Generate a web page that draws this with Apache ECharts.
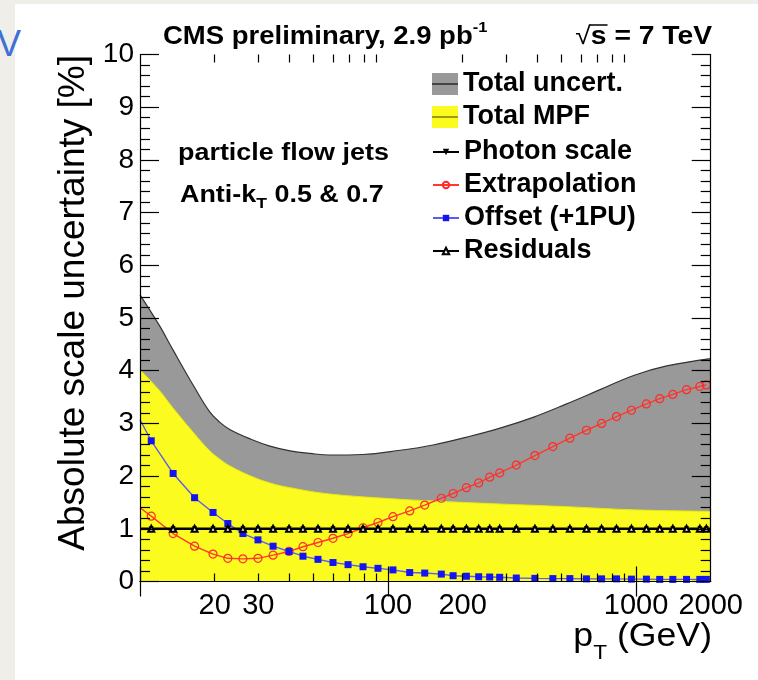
<!DOCTYPE html>
<html><head><meta charset="utf-8">
<script src="https://cdn.jsdelivr.net/npm/echarts@6/dist/echarts.min.js"></script>
<style>
html,body{margin:0;padding:0;background:#efeee8;width:758px;height:680px;overflow:hidden;}
#paper{position:absolute;left:15px;top:4px;right:0;bottom:0;background:#fff;}
#vmark{position:absolute;left:-3px;top:23px;font:36px "Liberation Sans",Arial,sans-serif;color:#3d70d8;}
#chart{position:absolute;left:0;top:0;width:758px;height:680px;}
</style></head><body>
<div id="paper"></div>
<div id="vmark">V</div>
<div id="chart"></div>
<script>
// ---- data ----
const ptBins = [11.1, 13.6, 16.6, 19.7, 22.6, 26.0, 29.9, 34.4, 39.9, 45.4, 52.2, 60.0, 69.0, 79.3, 91.1,
  104.7, 122.3, 140.6, 164, 183, 207, 232, 257, 282, 329, 391, 462, 541, 631, 726, 834, 958, 1101, 1246,
  1407, 1598, 1808, 1921];
const offsetVals = [2.67, 2.05, 1.59, 1.31, 1.10, 0.91, 0.79, 0.67, 0.57, 0.48, 0.42, 0.36, 0.32, 0.28, 0.25,
  0.22, 0.17, 0.16, 0.14, 0.11, 0.10, 0.09, 0.085, 0.08, 0.066, 0.06, 0.055, 0.055, 0.05, 0.05, 0.05, 0.045,
  0.045, 0.04, 0.04, 0.04, 0.04, 0.04];
const extrapVals = [1.24, 0.91, 0.67, 0.52, 0.44, 0.43, 0.44, 0.50, 0.57, 0.66, 0.74, 0.82, 0.91, 1.02, 1.12,
  1.23, 1.34, 1.45, 1.58, 1.67, 1.78, 1.87, 1.98, 2.06, 2.21, 2.39, 2.56, 2.72, 2.87, 3.00, 3.13, 3.25, 3.37,
  3.47, 3.55, 3.64, 3.70, 3.73];
const photonVals = [1,1,1,1,1,1,1,1,1,1,1,1,1,1,1,1,1,1,1,1,1,1,1,1,1,1,1,1,1,1,1,1,1,1,1,1,1,1];
const residualVals = [1,1,1,1,1,1,1,1,1,1,1,1,1,1,1,1,1,1,1,1,1,1,1,1,1,1,1,1,1,1,1,1,1,1,1,1,1,1];
const edgeStart = 10, edgeEnd = 2000;
const offsetAtStart = 3.07, extrapAtStart = 1.40;

const totalPt = [10, 12, 13.6, 16.6, 19.1, 21, 23.1, 28, 33.4, 40.3, 48.5, 58.3, 79, 112, 152, 208, 283, 387, 525, 716, 978, 1330, 2000];
const totalVals = [5.44, 4.85, 4.39, 3.68, 3.22, 3.02, 2.88, 2.70, 2.57, 2.48, 2.43, 2.40, 2.41, 2.49, 2.59, 2.74, 2.91, 3.12, 3.37, 3.64, 3.91, 4.09, 4.23];
const mpfPt = [10, 12, 13.6, 16.6, 19.1, 21, 23.1, 28, 33.4, 40.3, 58.3, 112, 147, 283, 525, 978, 2000];
const mpfVals = [4.02, 3.62, 3.29, 2.80, 2.48, 2.32, 2.19, 2.00, 1.87, 1.78, 1.66, 1.56, 1.53, 1.47, 1.42, 1.36, 1.33];

const xMajorTicks = [10, 100, 1000];
const xMinorTicks = [20, 30, 40, 50, 60, 70, 80, 90, 200, 300, 400, 500, 600, 700, 800, 900];
const xTickLabels = [20, 30, 100, 200, 1000, 2000];
const yMin = 0, yMax = 10, yStep = 1;

const names = ['Total uncert.', 'Total MPF', 'Photon scale', 'Extrapolation', 'Offset (+1PU)', 'Residuals'];

// ---- helpers ----
const FONT = '"Liberation Sans", Arial, sans-serif';
const mctx = document.createElement('canvas').getContext('2d');
function tw(t, s, w) { mctx.font = (w || 'normal') + ' ' + s + 'px "Liberation Sans"'; return mctx.measureText(t).width; }
function runs(x, y, parts, sx, align) {
  const total = parts.reduce((a, p) => a + tw(p.t, p.s, p.w) * sx, 0);
  let cx = align === 'right' ? x - total : x;
  const out = [];
  parts.forEach(p => {
    out.push({ type: 'text', x: cx, y: y + (p.dy || 0), scaleX: sx, z: 100,
      style: { text: p.t, fontSize: p.s, fontWeight: p.w || 'normal', fontFamily: FONT, fill: '#000',
        textAlign: 'left', textVerticalAlign: 'middle' } });
    p.x0 = cx; cx += tw(p.t, p.s, p.w) * sx; p.x1 = cx;
  });
  return out;
}
const pair = (xs, ys) => xs.map((x, i) => [x, ys[i]]);

const G = { left: 140, top: 54.5, right: 47.3, bottom: 98.5 };
const black = '#000';

function xAxisDef(grid, pos, ticks, len, labels, line) {
  return {
    type: 'log', logBase: 10, min: edgeStart, max: edgeEnd, gridIndex: grid, position: pos, z: 20,
    axisLine: { show: line, lineStyle: { color: black, width: 1.2 } },
    axisTick: { show: true, inside: true, length: len, customValues: ticks, lineStyle: { color: black, width: 1.2 } },
    axisLabel: labels ? { show: true, customValues: xTickLabels, formatter: v => String(Math.round(v)),
      fontSize: 29, fontFamily: FONT, color: black, margin: 10, hideOverlap: false } : { show: false },
    splitLine: { show: false }, minorTick: { show: false }, minorSplitLine: { show: false }
  };
}
function yAxisDef(grid, pos, labels, show) {
  return {
    type: 'value', min: yMin, max: yMax, interval: yStep, gridIndex: grid, position: pos, show: show, z: 20,
    axisLine: { show: true, lineStyle: { color: black, width: 1.2 } },
    axisTick: { show: true, inside: true, length: 19, lineStyle: { color: black, width: 1.2 } },
    minorTick: { show: true, splitNumber: 5, length: 10, lineStyle: { color: black, width: 1.2 } },
    axisLabel: labels ? { show: true, fontSize: 28, fontFamily: FONT, color: black, margin: 6 } : { show: false },
    splitLine: { show: false }
  };
}

const graphics = [];
// title
const t1 = [{ t: 'CMS preliminary, 2.9 pb', s: 25, w: 'bold' }, { t: '-1', s: 15, w: 'bold', dy: -9 }];
graphics.push(...runs(163, 37, t1, 1.1));
const t2 = [{ t: '\u221A', s: 25, w: 'normal' }, { t: 's = 7 TeV', s: 25, w: 'bold' }];
graphics.push(...runs(712, 37, t2, 1.13, 'right'));
graphics.push({ type: 'line', z: 100, shape: { x1: t2[0].x1 - 1, y1: 25, x2: t2[1].x0 + tw('s', 25, 'bold') * 1.13 + 1, y2: 25 },
  style: { stroke: '#000', lineWidth: 1.5 } });
// inner labels
graphics.push(...runs(178, 154, [{ t: 'particle flow jets', s: 23, w: 'bold' }], 1.17));
graphics.push(...runs(180, 196, [{ t: 'Anti-k', s: 23, w: 'bold' }, { t: 'T', s: 15, w: 'bold', dy: 8 },
  { t: ' 0.5 & 0.7', s: 23, w: 'bold' }], 1.17));
// x axis title
graphics.push(...runs(712, 637, [{ t: 'p', s: 33 }, { t: 'T', s: 21, dy: 16 }, { t: ' (GeV)', s: 33 }], 1.08, 'right'));
// y axis title
graphics.push({ type: 'text', x: 92, y: 55, rotation: Math.PI / 2, z: 100,
  style: { text: 'Absolute scale uncertainty [%]', fontSize: 37, fontFamily: FONT, fill: '#000',
    textAlign: 'right', textVerticalAlign: 'bottom' } });
// middle lines of the filled legend boxes
graphics.push({ type: 'line', z: 100, shape: { x1: 432, y1: 84, x2: 458, y2: 84 }, style: { stroke: '#444', lineWidth: 2 } });
graphics.push({ type: 'line', z: 100, shape: { x1: 432, y1: 117, x2: 458, y2: 117 }, style: { stroke: '#7d7d10', lineWidth: 1.5 } });

const legendText = { fontSize: 27, fontWeight: 'bold', fontFamily: FONT, color: black, lineHeight: 28 };
const option = {
  animation: false,
  backgroundColor: 'transparent',
  grid: [Object.assign({}, G), Object.assign({}, G)],
  xAxis: [
    xAxisDef(0, 'bottom', xMajorTicks, 15, true, true),
    xAxisDef(0, 'top', xMajorTicks, 15, false, true),
    xAxisDef(1, 'bottom', xMinorTicks, 8, false, false),
    xAxisDef(1, 'top', xMinorTicks, 8, false, false)
  ],
  yAxis: [
    yAxisDef(0, 'left', true, true),
    yAxisDef(0, 'right', false, true),
    yAxisDef(1, 'left', false, false)
  ],
  legend: [
    { left: 432, top: 70, padding: 0, orient: 'vertical', itemWidth: 26, itemHeight: 22, itemGap: 5, selectedMode: false,
      textStyle: legendText,
      data: [{ name: names[0], icon: 'rect', itemStyle: { color: '#999999', borderWidth: 0 } },
             { name: names[1], icon: 'rect', itemStyle: { color: '#fbfb1f', borderWidth: 0 } }] },
    { left: 432, top: 138, padding: 0, orient: 'vertical', itemWidth: 26, itemHeight: 8, itemGap: 5, selectedMode: false,
      textStyle: legendText,
      data: [names[2], names[3], names[4], names[5]] }
  ],
  graphic: graphics,
  series: [
    { name: names[0], type: 'line', data: pair(totalPt, totalVals), smooth: 0.4, symbol: 'none', z: 1,
      itemStyle: { color: '#999999' }, lineStyle: { color: '#333', width: 1.2 },
      areaStyle: { color: '#999999', opacity: 1, origin: 'start' } },
    { name: names[1], type: 'line', data: pair(mpfPt, mpfVals), smooth: 0.4, symbol: 'none', z: 2,
      itemStyle: { color: '#fbfb1f' }, lineStyle: { color: '#e8e810', width: 1 },
      areaStyle: { color: '#fbfb1f', opacity: 1, origin: 'start' } },
    { name: names[3], type: 'line', z: 5,
      data: [{ value: [edgeStart, extrapAtStart], symbol: 'none' }].concat(pair(ptBins, extrapVals)),
      symbol: 'circle', symbolSize: 8, itemStyle: { color: 'rgba(255,255,255,0)', borderColor: '#ff2a2a', borderWidth: 1.2 },
      lineStyle: { color: '#ff3a2a', width: 1.4 } },
    { name: names[4], type: 'line', z: 6,
      data: [{ value: [edgeStart, offsetAtStart], symbol: 'none' }].concat(pair(ptBins, offsetVals)),
      symbol: 'rect', symbolSize: 7, itemStyle: { color: '#1414f0' },
      lineStyle: { color: '#5c5cf0', width: 1.4 } },
    { name: names[2], type: 'line', z: 7,
      data: [{ value: [edgeStart, 1], symbol: 'none' }].concat(pair(ptBins, photonVals), [{ value: [edgeEnd, 1], symbol: 'none' }]),
      symbol: 'triangle', symbolRotate: 180, symbolSize: 5, itemStyle: { color: '#000' },
      lineStyle: { color: '#000', width: 2.4 } },
    { name: names[5], type: 'line', z: 8,
      data: [{ value: [edgeStart, 1], symbol: 'none' }].concat(pair(ptBins, residualVals), [{ value: [edgeEnd, 1], symbol: 'none' }]),
      symbol: 'emptyTriangle', symbolSize: 6, itemStyle: { color: '#000', borderWidth: 1.5 },
      lineStyle: { color: '#000', width: 1.6 } }
  ]
};
const chart = echarts.init(document.getElementById('chart'), null, { renderer: 'canvas' });
chart.setOption(option);
</script>
</body></html>
